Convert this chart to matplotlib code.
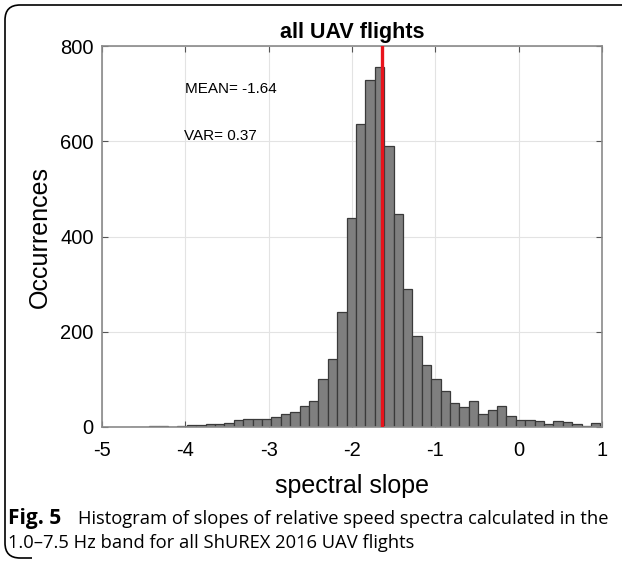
import numpy as np
import matplotlib
matplotlib.use('Agg')
import matplotlib.pyplot as plt
from matplotlib.path import Path
from matplotlib.patches import PathPatch

# histogram counts (50 bins between data min and max)
slope_min = -4.66
slope_max = 0.98
counts = [1, 1, 2, 2, 0, 3, 5, 5, 7, 6,
          9, 14, 16, 16, 16, 20, 28, 31, 45, 55,
          101, 143, 241, 439, 636, 729, 756, 589, 447, 290,
          192, 130, 100, 75, 50, 43, 55, 28, 36, 44,
          24, 15, 15, 13, 6, 13, 11, 7, 3, 9]
mean_slope = -1.64
var_slope = 0.37
x_ticks = [-5, -4, -3, -2, -1, 0, 1]
y_ticks = [0, 200, 400, 600, 800]

plt.rcParams['font.family'] = ['Liberation Sans', 'DejaVu Sans']
plt.rcParams['axes.unicode_minus'] = False  # MATLAB style hyphen minus

W, H = 622, 562
fig = plt.figure(figsize=(W/100, H/100), dpi=100)
ax = fig.add_axes([102/W, 1 - 427/H, 500/W, 381/H])

edges = np.linspace(slope_min, slope_max, len(counts) + 1)
centers = (edges[:-1] + edges[1:]) / 2
ax.hist(centers, bins=edges, weights=counts, color='#7f7f7f',
        edgecolor='#3a3a3a', linewidth=0.9, zorder=2)

# mean line
ax.axvline(mean_slope, color='#e8141c', linewidth=2.4, zorder=3)

ax.text(-4.0, 710, 'MEAN= %.2f' % mean_slope, fontsize=11, va='center', ha='left')
ax.text(-4.02, 610, 'VAR= %.2f' % var_slope, fontsize=11, va='center', ha='left')

ax.set_xlim(-5, 1)
ax.set_ylim(0, 800)
ax.set_xticks(x_ticks)
ax.set_yticks(y_ticks)
ax.grid(True, color='#e3e3e3', linewidth=0.8, zorder=0)
ax.set_axisbelow(True)
ax.tick_params(direction='in', top=True, right=True, length=4,
               color='#555555', labelsize=14.5)
ax.tick_params(axis='x', pad=10)
ax.tick_params(axis='y', pad=6)
for sp in ax.spines.values():
    sp.set_color('#8a8a8a')
    sp.set_linewidth(1.2)

ax.set_title('all UAV flights', fontsize=15.5, fontweight='bold', pad=6)
ax.set_xlabel('spectral slope', fontsize=18, labelpad=10)
ax.set_ylabel('Occurrences', fontsize=18, labelpad=6)

# caption
fig.text(8.5/W, 1 - 524/H, 'Fig. 5', fontsize=15, family='Open Sans',
         fontweight='bold', va='baseline')
fig.text(78/W, 1 - 524/H,
         'Histogram of slopes of relative speed spectra calculated in the',
         fontsize=13.2, family='Open Sans', va='baseline')
fig.text(8.5/W, 1 - 548/H, '1.0\u20137.5 Hz band for all ShUREX 2016 UAV flights',
         fontsize=13.2, family='Open Sans', va='baseline')

# frame: rounded corners on the left, open on the right
r = 15
pts = [(32, 558), (5 + r, 558), (5, 558), (5, 558 - r), (5, 5 + r), (5, 5),
       (5 + r, 5), (W + 10, 5)]
codes = [Path.MOVETO, Path.LINETO, Path.CURVE3, Path.CURVE3, Path.LINETO,
         Path.CURVE3, Path.CURVE3, Path.LINETO]
frame_path = Path([(x / W, 1 - y / H) for x, y in pts], codes)
fig.patches.append(PathPatch(frame_path, transform=fig.transFigure, fill=False,
                             edgecolor='black', linewidth=1.2, clip_on=False))

fig.savefig('out.png', dpi=100)
